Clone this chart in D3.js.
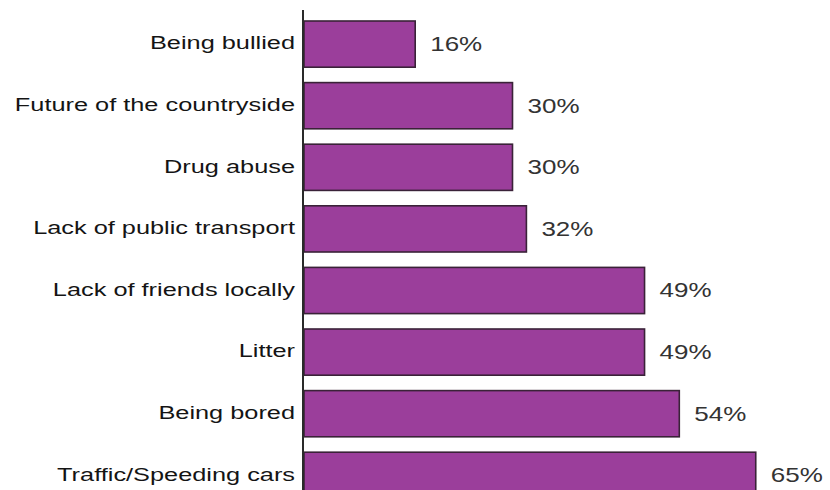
<!DOCTYPE html>
<html>
<head>
<meta charset="utf-8">
<script src="https://cdn.jsdelivr.net/npm/d3@7"></script>
<style>
  html, body { margin: 0; padding: 0; background: #fff; }
  svg { display: block; }
</style>
</head>
<body>
<svg id="chart" width="830" height="490"></svg>
<script>
// Issues worrying young people, share of respondents (%)
const categories = [
  "Being bullied",
  "Future of the countryside",
  "Drug abuse",
  "Lack of public transport",
  "Lack of friends locally",
  "Litter",
  "Being bored",
  "Traffic/Speeding cars"
];
const values = [16, 30, 30, 32, 49, 49, 54, 65];

const svg = d3.select("#chart");
const axisX = 303;

const x = d3.scaleLinear().domain([0, 100]).range([axisX + 1, axisX + 1 + 695]);
const y = d3.scaleBand()
  .domain(categories)
  .range([13.3, 13.3 + 8 * 61.6])
  .paddingInner(0.25)
  .paddingOuter(0.125);

const rows = categories.map((c, i) => ({ c, v: values[i] }));

// bars
svg.append("g").selectAll("rect")
  .data(rows)
  .join("rect")
  .attr("x", x(0))
  .attr("y", d => y(d.c))
  .attr("width", d => x(d.v) - x(0))
  .attr("height", y.bandwidth())
  .attr("fill", "#9b3e9b")
  .attr("stroke", "#3a2238")
  .attr("stroke-width", 1.6);

// vertical axis line
svg.append("line")
  .attr("x1", axisX).attr("x2", axisX)
  .attr("y1", 10).attr("y2", 490)
  .attr("stroke", "#2a2a2a")
  .attr("stroke-width", 2);

// category labels (wide lettering)
svg.append("g").selectAll("text")
  .data(rows)
  .join("text")
  .attr("transform", d => `translate(${axisX - 8},${y(d.c) + y.bandwidth() / 2 - 1}) scale(1.37,1)`)
  .attr("text-anchor", "end")
  .attr("dominant-baseline", "central")
  .attr("font-family", "'Liberation Sans', Arial, sans-serif")
  .attr("font-size", 18.5)
  .attr("fill", "#141414")
  .text(d => d.c);

// value labels
svg.append("g").selectAll("text")
  .data(rows)
  .join("text")
  .attr("transform", d => `translate(${x(d.v) + 15},${y(d.c) + y.bandwidth() / 2}) scale(1.3,1)`)
  .attr("text-anchor", "start")
  .attr("dominant-baseline", "central")
  .attr("font-family", "'Liberation Sans', Arial, sans-serif")
  .attr("font-size", 20)
  .attr("fill", "#333")
  .text(d => d.v + "%");
</script>
</body>
</html>
